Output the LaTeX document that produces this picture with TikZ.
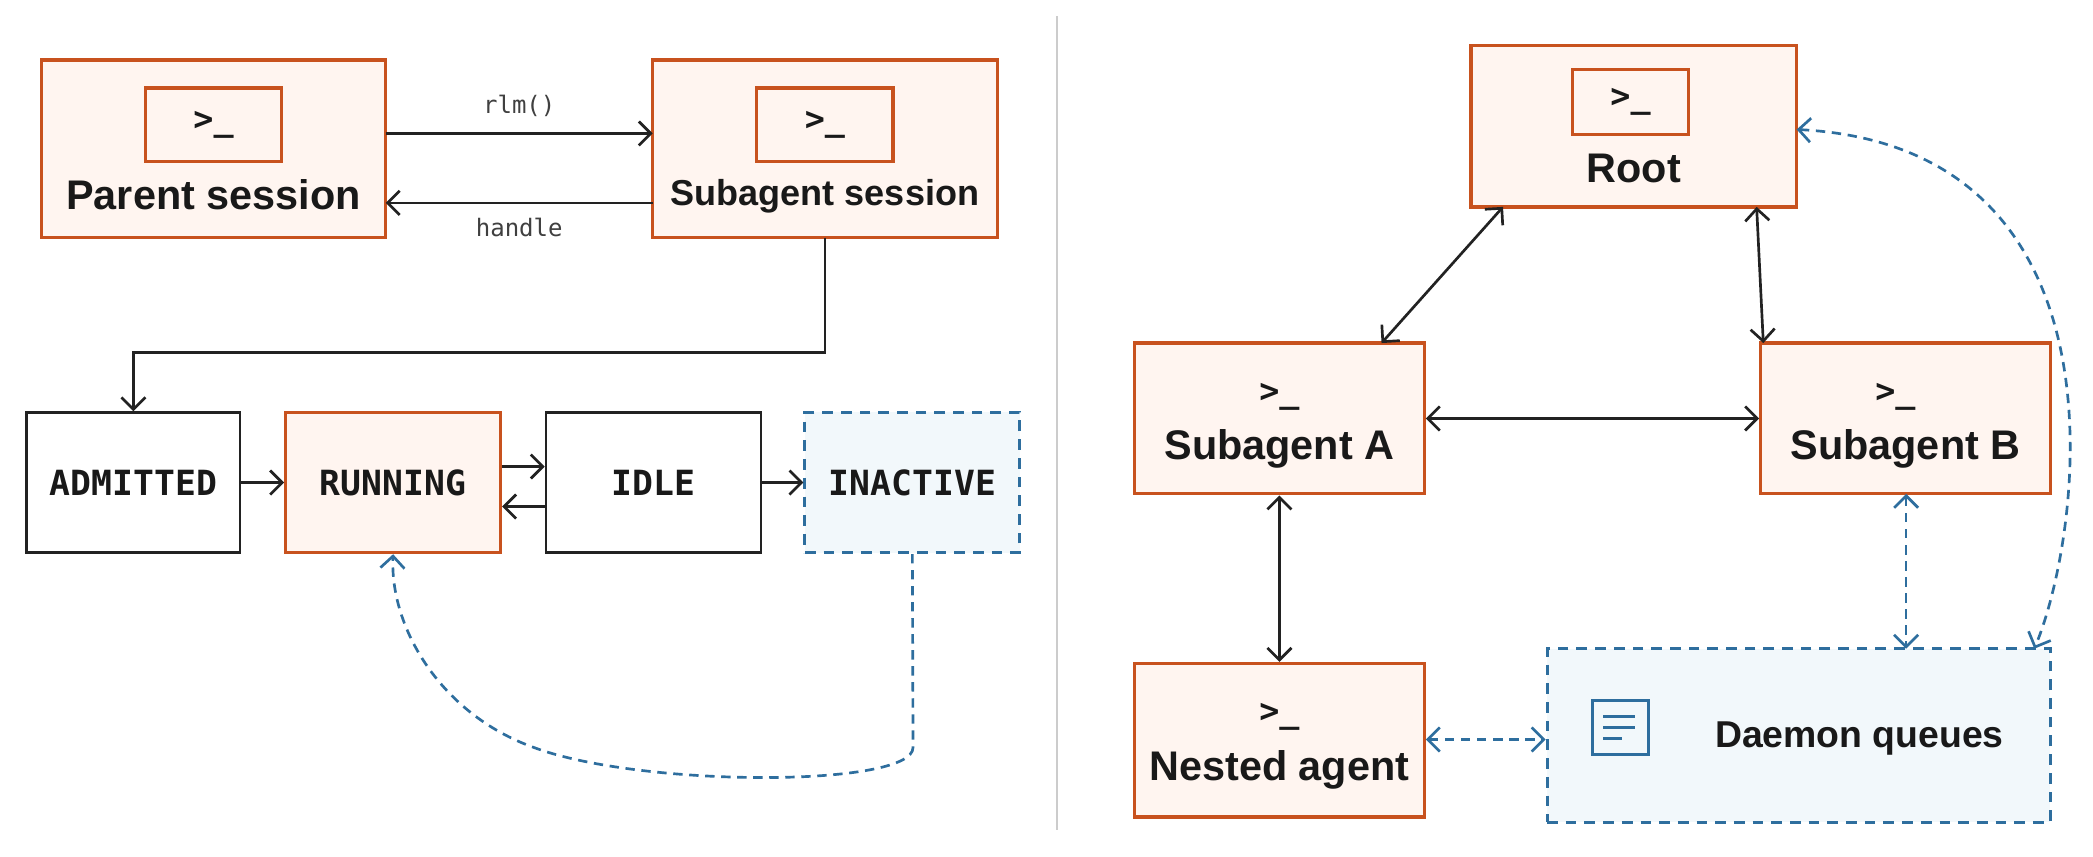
\documentclass[tikz,border=0pt]{standalone}
\usepackage{fontspec}
\setmainfont{Liberation Sans}
\newfontfamily\monof{DejaVu Sans Mono}
\usetikzlibrary{arrows.meta}
\definecolor{org}{RGB}{200,82,30}
\definecolor{orgfill}{RGB}{255,245,240}
\definecolor{blu}{RGB}{46,110,158}
\definecolor{blufill}{RGB}{242,248,251}
\definecolor{ink}{RGB}{34,34,34}
\tikzset{
  tip/.tip={Straight Barb[length=9pt,width=18pt,line width=2pt]},
  ob/.style={draw=org,fill=orgfill,line width=2.4pt},
  bb/.style={draw=ink,fill=white,line width=1.8pt},
  db/.style={draw=blu,fill=blufill,line width=2.2pt,dash pattern=on 8pt off 6pt},
  ar/.style={draw=ink,line width=2pt,-tip},
  dar/.style={draw=ink,line width=2pt,tip-tip},
  bar/.style={draw=blu,line width=2pt,dash pattern=on 7pt off 5pt,tip-tip},
  lbl/.style={font=\fontsize{31}{34}\selectfont\bfseries,text=black!90},
  slbl/.style={font=\fontsize{27}{30}\selectfont\bfseries,text=black!90},
  st/.style={font=\monof\fontsize{26}{29}\selectfont\bfseries,text=black!90},
  pr/.style={font=\monof\fontsize{25}{28}\selectfont\bfseries,text=black!90},
  ml/.style={font=\monof\fontsize{18}{21}\selectfont,text=black!75},
}
\begin{document}
\begin{tikzpicture}[x=1pt,y=-1pt]
\useasboundingbox[fill=white] (0,0) rectangle (1568,642);
\draw[black!20,line width=1.5pt] (792,12) -- (792,622);
% left top
\draw[ob] (31,45) rectangle (289,178);
\node[ob,minimum width=102pt,minimum height=55pt,pr] (pi) at (160,93.5) {>\_};
\node[lbl] (pl) at (160,146) {Parent session};
\draw[ob] (489,45) rectangle (747,178);
\node[ob,minimum width=102pt,minimum height=55pt,pr] (si) at (618,93.5) {>\_};
\node[slbl] (sl) at (618,147) {Subagent session};
\coordinate (pR1) at (289,100); \coordinate (sL1) at (489,100);
\coordinate (pR2) at (289,152); \coordinate (sL2) at (489,152);
\draw[ar] (pR1) -- node[ml,above=8pt] {rlm()} (sL1);
\draw[ar] (sL2) -- node[ml,below=7pt] {handle} (pR2);
% states
\node[bb,minimum width=160pt,minimum height=105pt,st] (adm) at (100,361.5) {ADMITTED};
\node[ob,minimum width=161pt,minimum height=105pt,st] (run) at (294.5,361.5) {RUNNING};
\node[bb,minimum width=161pt,minimum height=105pt,st] (idl) at (489.5,361.5) {IDLE};
\node[db,minimum width=161pt,minimum height=105pt,st] (ina) at (683.5,361.5) {INACTIVE};
\coordinate (sb) at (618,178);
\draw[ar] (sb) |- (350,264) -| (adm.north);
\draw[ar] (adm.east) -- (run.west);
\draw[ar] ([yshift=12pt]run.east) -- ([yshift=12pt]idl.west);
\draw[ar] ([yshift=-18pt]idl.west) -- ([yshift=-18pt]run.east);
\draw[ar] (idl.east) -- (ina.west);
\draw[draw=blu,line width=2pt,dash pattern=on 7pt off 5pt,-tip]
  (ina.south) -- (684,560) .. controls (684,590) and (480,590) .. (400,560)
  .. controls (330,535) and (292,470) .. (run.south);
% right
\draw[ob] (1102,34) rectangle (1346,155);
\node[ob,minimum width=87pt,minimum height=49pt,pr] (ri) at (1221.5,76.5) {>\_};
\node[lbl] (rl) at (1224,126) {Root};
\node[ob,minimum width=217pt,minimum height=113pt] (sa) at (958.5,313.5) {};
\node[pr] at (958.5,297) {>\_};
\node[lbl] at (958.5,336) {Subagent A};
\node[ob,minimum width=217pt,minimum height=113pt] (sbx) at (1427.5,313.5) {};
\node[pr] at (1420,297) {>\_};
\node[lbl] at (1427.5,336) {Subagent B};
\node[ob,minimum width=217pt,minimum height=115pt] (na) at (958.5,554.5) {};
\node[pr] at (958.5,537) {>\_};
\node[lbl] at (958.5,577) {Nested agent};
\node[db,minimum width=377pt,minimum height=130pt] (dq) at (1347.5,551) {};
\draw[blu,line width=2.2pt] (1193,525) rectangle (1235,565);
\draw[blu,line width=2.2pt] (1201,537) -- (1225,537) (1201,545) -- (1225,545) (1201,553) -- (1215,553);
\node[font=\fontsize{28}{31}\selectfont\bfseries,text=black!90] at (1393,553) {Daemon queues};
\coordinate (rA) at (1126,155); \coordinate (aR) at (1035,257);
\coordinate (rB) at (1316,155); \coordinate (bR) at (1321,257);
\draw[dar] (rA) -- (aR);
\draw[dar] (rB) -- (bR);
\draw[dar] (sa.east) -- (sbx.west);
\draw[dar] (sa.south) -- (na.north);
\coordinate (bD) at (1428,370); \coordinate (dB) at (1428,486);
\draw[bar] (bD) -- (dB);
\draw[bar] (na.east |- 0,554) -- (dq.west |- 0,554);
\coordinate (rR) at (1346,97); \coordinate (dT) at (1524,486);
\draw[bar] (rR) .. controls (1600,110) and (1560,400) .. (dT);
\end{tikzpicture}
\end{document}
